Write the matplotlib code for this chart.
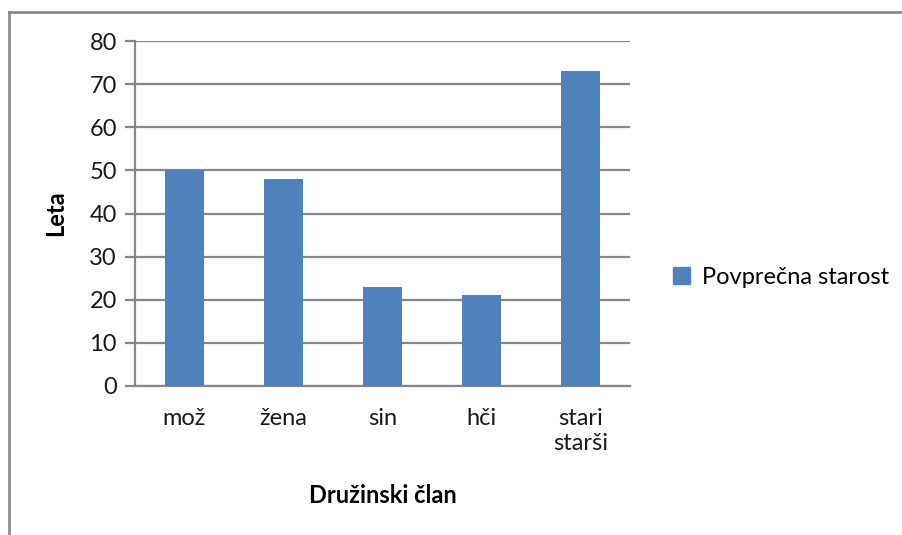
import matplotlib.pyplot as plt
from matplotlib.lines import Line2D

# Data
categories = ['mož', 'žena', 'sin', 'hči', 'stari\nstarši']
values = [50, 48, 23, 21, 73]
series_name = 'Povprečna starost'

plt.rcParams['font.family'] = ['Lato', 'DejaVu Sans']
fs = 17

fig = plt.figure(figsize=(9.03, 5.35), dpi=100)
ax = fig.add_axes([135 / 903, 1 - 386 / 535, (630 - 135) / 903, (386 - 41) / 535])

grid_col = '#868686'
x = range(len(categories))
ax.bar(x, values, width=0.4, color='#4F81BD', zorder=3, label=series_name)

ax.set_xlim(-0.5, len(categories) - 0.5)
ax.set_ylim(0, 80)
ax.set_yticks(range(0, 81, 10))
ax.set_xticks(list(x))
ax.set_xticklabels(categories, fontsize=fs, color='#1a1a1a', linespacing=1.2)
ax.tick_params(axis='y', labelsize=fs, colors='#1a1a1a', length=7, width=1.6,
               color=grid_col, pad=6)
ax.tick_params(axis='x', length=0, pad=16)

ax.yaxis.grid(True, color=grid_col, linewidth=1.6, zorder=0)
for s in ['top', 'right']:
    ax.spines[s].set_visible(False)
for s in ['left', 'bottom']:
    ax.spines[s].set_color(grid_col)
    ax.spines[s].set_linewidth(1.6)

ax.set_ylabel('Leta', fontsize=fs, fontweight='bold', labelpad=16)
ax.set_xlabel('Družinski član', fontsize=fs, fontweight='bold', labelpad=22)

handle = plt.Rectangle((0, 0), 1, 1, color='#4F81BD')
fig.legend([handle], [series_name], loc='center left',
           bbox_to_anchor=(652 / 903, 1 - 277 / 535), frameon=False,
           fontsize=fs, handlelength=0.7, handleheight=0.7, handletextpad=0.5)

# outer chart border (only top and left edges visible)
fig.add_artist(Line2D([9 / 903, 1], [1 - 12 / 535] * 2, color='#8c8c8c', linewidth=2,
                      transform=fig.transFigure))
fig.add_artist(Line2D([9 / 903] * 2, [0, 1 - 12 / 535], color='#8c8c8c', linewidth=2,
                      transform=fig.transFigure))

fig.savefig('out.png', dpi=100)
